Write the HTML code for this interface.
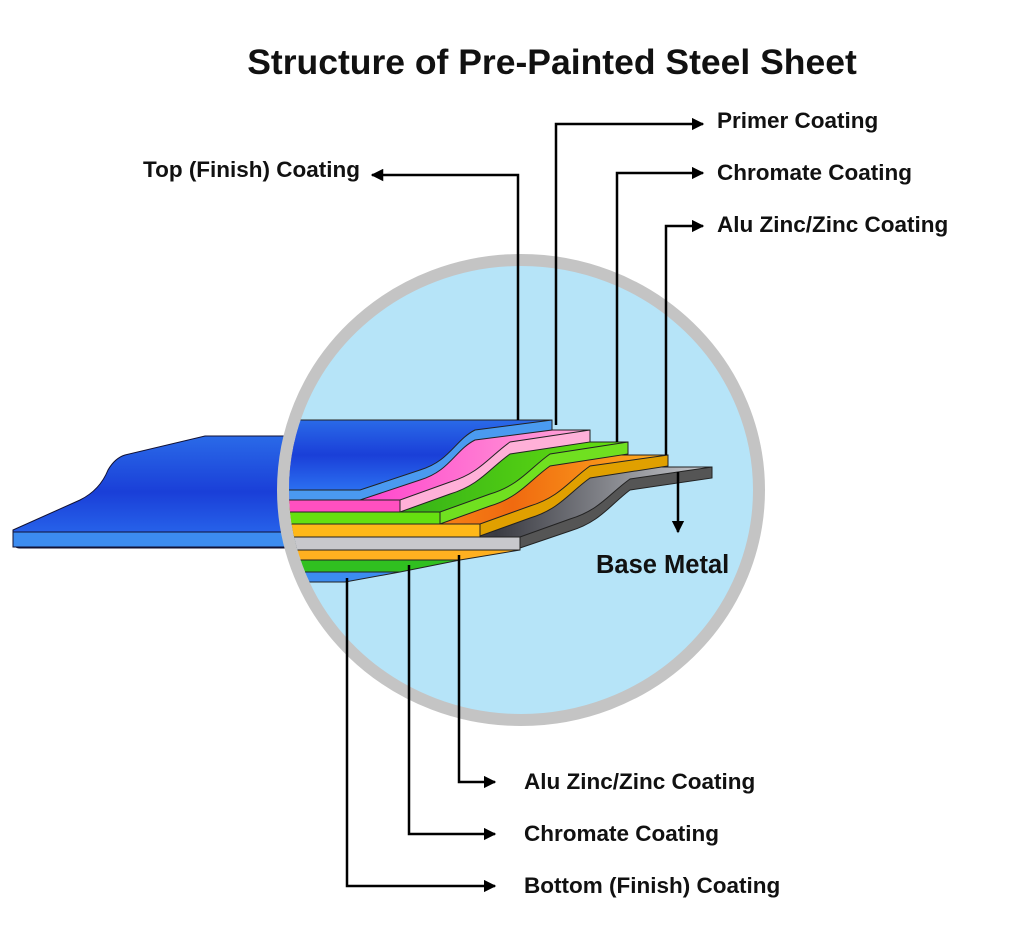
<!DOCTYPE html>
<html><head><meta charset="utf-8"><style>
html,body{margin:0;padding:0;background:#fff;width:1024px;height:926px;overflow:hidden}
svg{display:block}
text{font-family:"Liberation Sans",Arial,sans-serif;font-weight:bold;fill:#111}
</style></head><body>
<svg width="1024" height="926" viewBox="0 0 1024 926" xmlns="http://www.w3.org/2000/svg">
<defs>
<linearGradient id="bl" x1="0" y1="0" x2="0" y2="1"><stop offset="0" stop-color="#2a6ae8"/><stop offset="0.5" stop-color="#1a3fd8"/><stop offset="1" stop-color="#2b6ff0"/></linearGradient>
<linearGradient id="gr" x1="0" y1="0" x2="1" y2="0"><stop offset="0" stop-color="#8a8d96"/><stop offset="0.5" stop-color="#3a3b42"/><stop offset="1" stop-color="#c9cbd0"/></linearGradient>
<linearGradient id="or" x1="0" y1="0" x2="1" y2="0"><stop offset="0" stop-color="#ffb020"/><stop offset="0.6" stop-color="#f06a10"/><stop offset="1" stop-color="#ffb020"/></linearGradient>
<linearGradient id="gn" x1="0" y1="0" x2="1" y2="0"><stop offset="0" stop-color="#1c9a1c"/><stop offset="1" stop-color="#66e010"/></linearGradient>
<linearGradient id="pk" x1="0" y1="0" x2="1" y2="0"><stop offset="0" stop-color="#ff20c8"/><stop offset="1" stop-color="#ffa8d8"/></linearGradient>
<clipPath id="cc"><ellipse cx="521" cy="490" rx="232" ry="224"/></clipPath>
<marker id="ar" viewBox="0 0 10 10" refX="9" refY="5" markerWidth="5" markerHeight="5" orient="auto"><path d="M0,0L10,5L0,10z" fill="#000"/></marker>
</defs>
<text x="552" y="74" font-size="35.5" text-anchor="middle">Structure of Pre-Painted Steel Sheet</text>
<path d="M13,530 L80,500 Q100,490 108,470 Q115,458 125,455 L205,436 L320,436 L320,548 L20,548 Q13,548 13,540 Z" fill="url(#bl)" stroke="#113" stroke-width="1"/>
<rect x="13" y="532" width="307" height="15" fill="#3c8cf0" stroke="#113" stroke-width="1"/>
<ellipse cx="521" cy="490" rx="238" ry="230" fill="#b6e4f8" stroke="#c4c4c4" stroke-width="12"/>
<g clip-path="url(#cc)" stroke="#222" stroke-width="1">
<polygon points="280,572 400,572 345,582 280,582" fill="#3c8cf0"/>
<polygon points="280,560 460,560 400,572 280,572" fill="#30c020"/>
<polygon points="280,550 520,550 460,560 280,560" fill="#ffb020"/>
<path d="M280,548 L520,548 L570,531 C600,522 610,505 630,490 L712,478 L712,467 L280,467Z" fill="#555"/>
<path d="M280,537 L520,537 L570,519 C600,510 610,493 630,479 L712,467 L280,467Z" fill="url(#gr)"/>
<rect x="280" y="537" width="240" height="13" fill="#c8c8cc"/>
<path d="M280,536 L480,536 L530,518 C560,509 570,492 590,478 L668,466 L668,455 L280,455Z" fill="#e0a000"/>
<path d="M280,524 L480,524 L530,506 C560,497 570,480 590,466 L668,455 L280,455Z" fill="url(#or)"/>
<rect x="280" y="524" width="200" height="13" fill="#ffb818"/>
<path d="M280,524 L440,524 L490,506 C520,497 530,480 550,466 L628,454 L628,442 L280,442Z" fill="#70e020"/>
<path d="M280,512 L440,512 L490,494 C520,485 530,468 550,454 L628,442 L280,442Z" fill="url(#gn)"/>
<rect x="280" y="512" width="160" height="12" fill="#66e010"/>
<path d="M280,512 L400,512 L450,494 C480,485 490,468 510,454 L590,442 L590,430 L280,430Z" fill="#ffb0d8"/>
<path d="M280,500 L400,500 L450,482 C480,473 490,456 510,442 L590,430 L280,430Z" fill="url(#pk)"/>
<rect x="280" y="500" width="120" height="12" fill="#ff50c0"/>
<path d="M280,500 L360,500 L420,480 C450,471 455,450 475,440 L552,430 L552,420 L280,420Z" fill="#4a9af0"/>
<path d="M280,490 L360,490 L420,470 C450,461 455,440 475,430 L552,420 L280,420Z" fill="url(#bl)"/>
</g>
<g stroke="#000" stroke-width="2.5" fill="none">
<polyline points="518,420 518,175 372,175" marker-end="url(#ar)"/>
<polyline points="556,425 556,124 703,124" marker-end="url(#ar)"/>
<polyline points="617,442 617,173 703,173" marker-end="url(#ar)"/>
<polyline points="666,455 666,226 703,226" marker-end="url(#ar)"/>
<polyline points="678,472 678,532" marker-end="url(#ar)"/>
<polyline points="459,555 459,782 495,782" marker-end="url(#ar)"/>
<polyline points="409,565 409,834 495,834" marker-end="url(#ar)"/>
<polyline points="347,578 347,886 495,886" marker-end="url(#ar)"/>
</g>
<g font-size="22.5">
<text x="143" y="177">Top (Finish) Coating</text>
<text x="717" y="128">Primer Coating</text>
<text x="717" y="180">Chromate Coating</text>
<text x="717" y="232">Alu Zinc/Zinc Coating</text>
<text x="596" y="573" font-size="25.5">Base Metal</text>
<text x="524" y="789">Alu Zinc/Zinc Coating</text>
<text x="524" y="841">Chromate Coating</text>
<text x="524" y="893">Bottom (Finish) Coating</text>
</g>
</svg>
</body></html>
